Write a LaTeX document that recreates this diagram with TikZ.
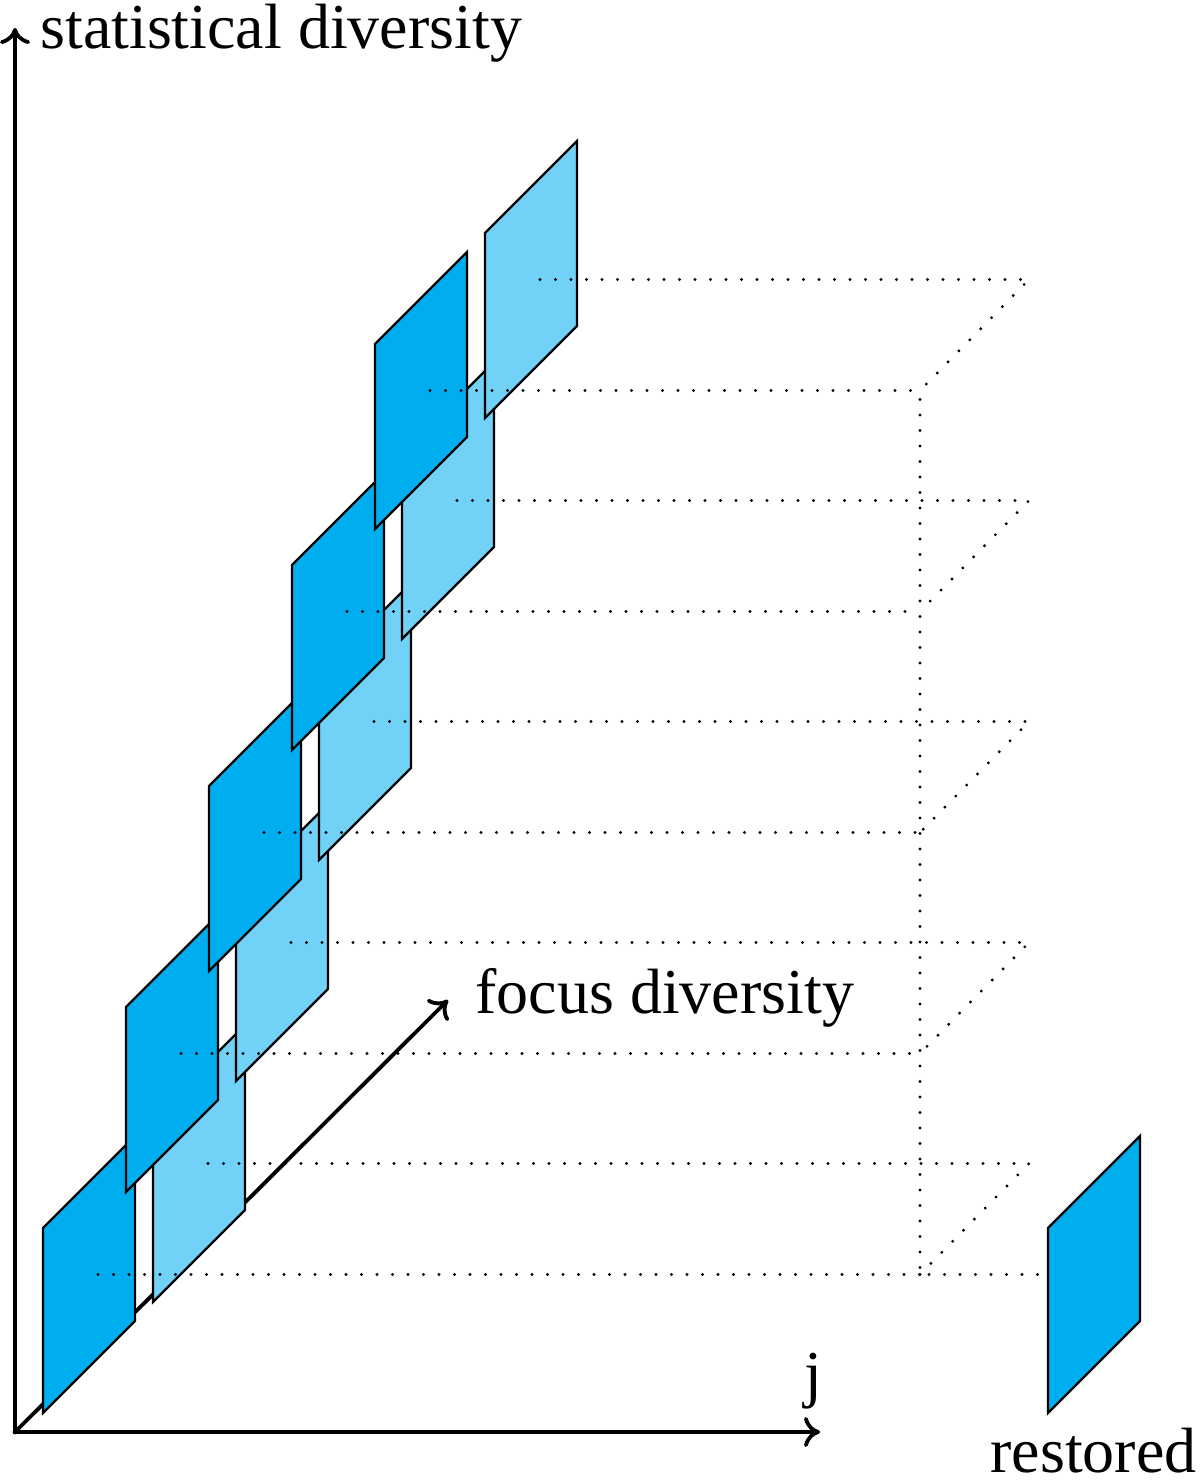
\documentclass[tikz,border=0pt]{standalone}
\usepackage{fontspec}
\setmainfont{Liberation Serif}
\usetikzlibrary{arrows.meta}
\definecolor{darkpanel}{RGB}{0,174,239}
\definecolor{lightpanel}{RGB}{114,209,247}
\tikzset{
  axisline/.style={line width=1.9pt, line cap=rect},
  axtip/.tip={To[length=8pt,width=15pt,line width=1.9pt]},
  panelbox/.style={draw=black, line width=1.1pt, line join=miter},
  dotline/.style={line width=1.6pt, line cap=round, dash pattern=on 0pt off 7.75pt, dash phase=3.25pt},
  lab/.style={inner sep=0pt, font=\fontsize{32}{38}\selectfont}
}
\begin{document}
\begin{tikzpicture}[x=0.5pt,y=-0.5pt]
\useasboundingbox (0,0) rectangle (1200,1483);
% axes
\coordinate (O) at (15,1432);
\coordinate (ytip) at (15,28);
\coordinate (xtip) at (820,1432);
\coordinate (ztip) at (448,1000);
\draw[axisline, -axtip] (O) -- (ztip);
\draw[axisline, axtip-axtip] (ytip) -- (O) -- (xtip);
% panels
\foreach \k in {0,...,4} {
  \coordinate (db\k) at ({43+83*\k},{1413-221*\k});
  \coordinate (lb\k) at ({153+83*\k},{1302-221*\k});
  \coordinate (dc\k) at ({89+83*\k},{1274.5-221*\k});
  \coordinate (lc\k) at ({199+83*\k},{1163.5-221*\k});
  \filldraw[panelbox, fill=darkpanel] (db\k) -- ++(0,-185) -- ++(92,-92) -- ++(0,185) -- cycle;
  \filldraw[panelbox, fill=lightpanel] (lb\k) -- ++(0,-185) -- ++(92,-92) -- ++(0,185) -- cycle;
}
% restored panel
\coordinate (rb) at (1048,1413);
\coordinate (rl) at (1048,1274.5);
\filldraw[panelbox, fill=darkpanel] (rb) -- ++(0,-185) -- ++(92,-92) -- ++(0,185) -- cycle;
% dotted guide lines
\foreach \k in {0,...,4} {
  \coordinate (de\k) at (920,{1274.5-221*\k});
  \coordinate (le\k) at (1029,{1163.5-221*\k});
  \draw[dotline] (dc\k) -- (de\k);
  \draw[dotline] (lc\k) -- (le\k) -- (de\k);
}
\draw[dotline] (de0) -- (rl);
\draw[dotline] (de4) -- (de0);
% labels
\node[lab, anchor=base west] (ylab) at (40,48) {statistical diversity};
\node[lab, anchor=base west] (zlab) at (475,1013) {focus diversity};
\node[lab, anchor=base] (xlab) at (813,1395) {j};
\node[lab, anchor=base west] (rlab) at (990,1472) {restored};
\end{tikzpicture}
\end{document}
